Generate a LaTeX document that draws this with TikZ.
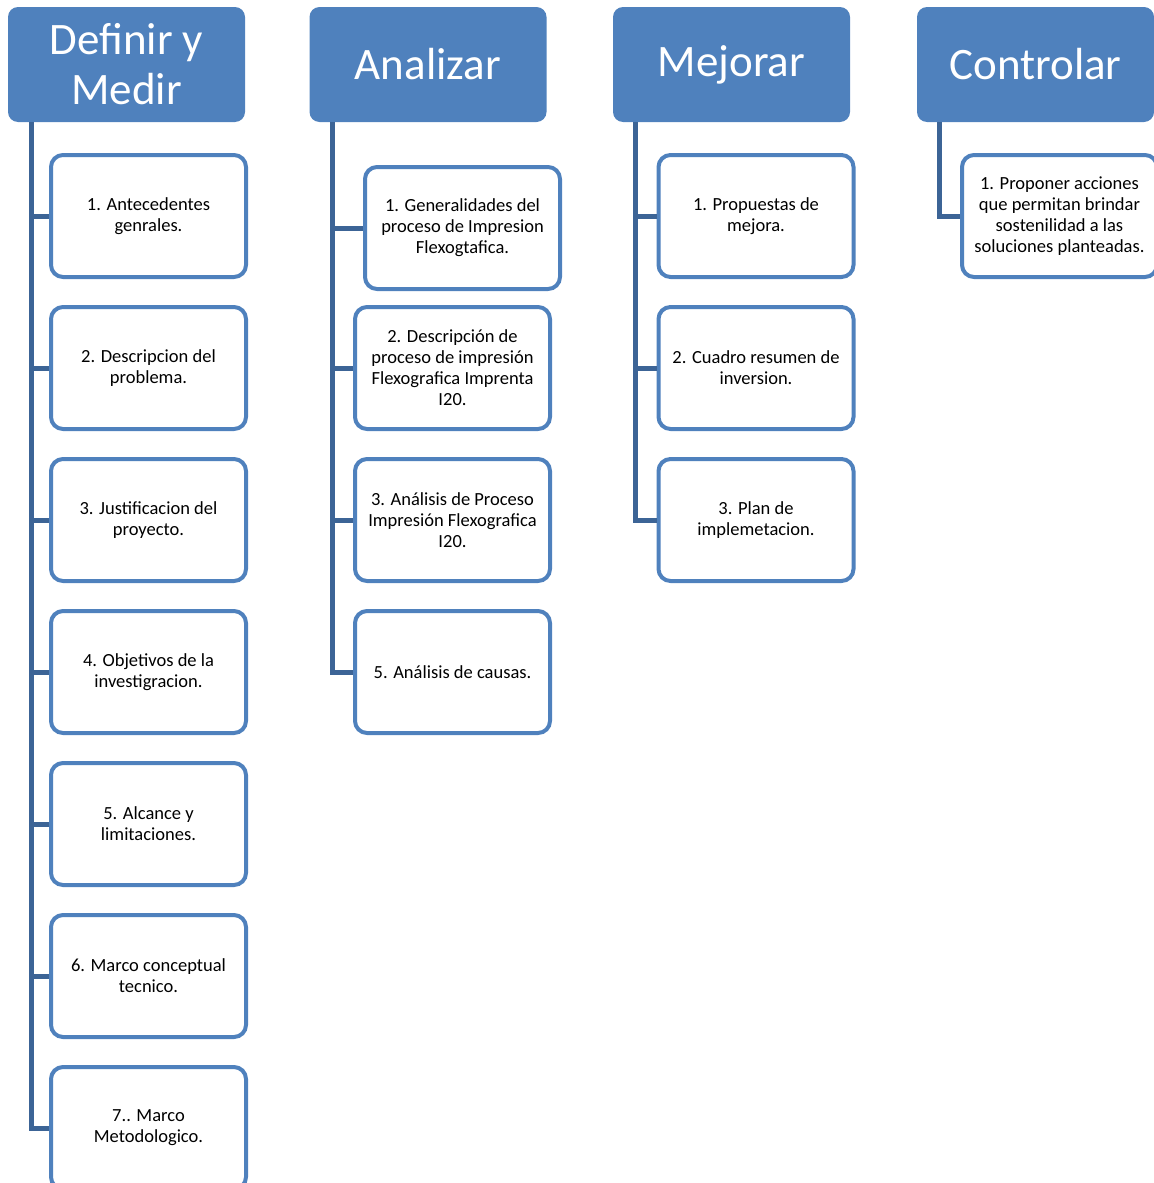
\documentclass[tikz,border=0pt]{standalone}
\usepackage{fontspec}
\setmainfont{Carlito}
\usepackage{tikz}
\usetikzlibrary{positioning, calc}
\definecolor{phaseblue}{RGB}{79, 129, 189}
\definecolor{linkblue}{RGB}{60, 100, 150}

\begin{document}
\begin{tikzpicture}[
  x=0.5pt, y=-0.5pt,
  phase/.style={draw=none, fill=phaseblue, rounded corners=5pt, minimum width=118.5pt, minimum height=57.5pt, align=center, text=white, font=\fontsize{22.5}{25}\selectfont},
  task/.style={draw=phaseblue, line width=2pt, fill=white, rounded corners=6pt, minimum width=97.5pt, minimum height=61pt, align=center, font=\fontsize{9.25}{10.5}\selectfont, inner sep=1pt},
  link/.style={draw=linkblue, line width=2.5pt}
]
\useasboundingbox (0,0) rectangle (1154,1183);
\clip (0,0) rectangle (1154,1183);

% Phase headers
\node[phase] (hdDef) at (126.5, 64.5) {Definir y\\Medir};
\node[phase] (hdAna) at (428, 64.5) {Analizar};
\node[phase] (hdMej) at (731.5, 64.5) {Mejorar};
\node[phase] (hdCon) at (1035.5, 64.5) {Controlar};

% Spines
\coordinate (spDef) at (31, 122);
\coordinate (spAna) at (332, 122);
\coordinate (spMej) at (635, 122);
\coordinate (spCon) at (939, 122);

% Definir y Medir
\node[task] (d1) at (148.5, 216) {1. Antecedentes\\genrales.};
\node[task] (d2) at (148.5, 368) {2. Descripcion del\\problema.};
\node[task] (d3) at (148.5, 520) {3. Justificacion del\\proyecto.};
\node[task] (d4) at (148.5, 672) {4. Objetivos de la\\investigracion.};
\node[task] (d5) at (148.5, 824) {5. Alcance y\\limitaciones.};
\node[task] (d6) at (148.5, 976) {6. Marco conceptual\\tecnico.};
\node[task] (d7) at (148.5, 1128) {7.. Marco\\Metodologico.};

\draw[link] (spDef) |- (d7.west);
\foreach \i in {1,...,6}
  \draw[link] (d\i.west) -- (d\i.west -| spDef);

% Analizar
\node[task] (a1) at (462.5, 228) {1. Generalidades del\\proceso de Impresion\\Flexogtafica.};
\node[task] (a2) at (452.5, 368) {2. Descripción de\\proceso de impresión\\Flexografica Imprenta\\I20.};
\node[task] (a3) at (452.5, 520) {3. Análisis de Proceso\\Impresión Flexografica\\I20.};
\node[task] (a5) at (452.5, 672) {5. Análisis de causas.};

\draw[link] (spAna) |- (a5.west);
\foreach \i in {1,2,3}
  \draw[link] (a\i.west) -- (a\i.west -| spAna);

% Mejorar
\node[task] (m1) at (756, 216) {1. Propuestas de\\mejora.};
\node[task] (m2) at (756, 368) {2. Cuadro resumen de\\inversion.};
\node[task] (m3) at (756, 520) {3. Plan de\\implemetacion.};

\draw[link] (spMej) |- (m3.west);
\foreach \i in {1,2}
  \draw[link] (m\i.west) -- (m\i.west -| spMej);

% Controlar
\node[task] (c1) at (1059.5, 216) {1. Proponer acciones\\que permitan brindar\\sostenilidad a las\\soluciones planteadas.};

\draw[link] (spCon) |- (c1.west);

\end{tikzpicture}
\end{document}
